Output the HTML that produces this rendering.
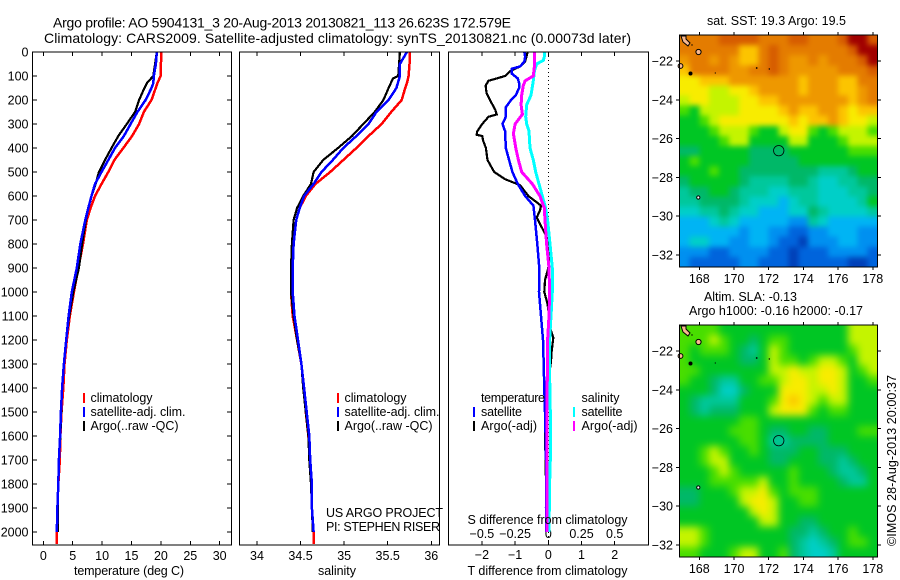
<!DOCTYPE html>
<html lang="en">
<head>
<meta charset="utf-8">
<title>Argo profile AO 5904131_3</title>
<style>
html,body{margin:0;padding:0;background:#fff;}
svg{display:block;}
text{font-family:"Liberation Sans",sans-serif;font-size:12.5px;fill:#000;}
.crisp{shape-rendering:crispEdges;}
</style>
</head>
<body>
<svg id="chart" xmlns="http://www.w3.org/2000/svg" width="900" height="580" viewBox="0 0 900 580">
<defs>
<filter id="soft-sst" filterUnits="userSpaceOnUse" x="650" y="10" width="250" height="290" color-interpolation-filters="sRGB"><feGaussianBlur stdDeviation="2.6"/></filter>
<filter id="soft-sla" filterUnits="userSpaceOnUse" x="650" y="300" width="250" height="280" color-interpolation-filters="sRGB"><feGaussianBlur stdDeviation="4"/></filter>
<clipPath id="clip-sst"><rect x="679.5" y="35" width="198" height="232"/></clipPath>
<clipPath id="clip-sla"><rect x="679.5" y="325" width="198" height="232"/></clipPath>
</defs>
<rect x="0" y="0" width="900" height="580" fill="#fff"/>
<text x="53" y="27.5" textLength="458" style="font-size:14px">Argo profile: AO 5904131_3 20-Aug-2013 20130821_113 26.623S 172.579E</text>
<text x="44" y="43" textLength="587" style="font-size:14px">Climatology: CARS2009. Satellite-adjusted climatology: synTS_20130821.nc (0.00073d later)</text>

<g id="maps"></g>
<g id="ticks"></g>
<g id="lines"></g>

<rect class="crisp" x="32.5" y="52" width="199" height="493" fill="none" stroke="#000" stroke-width="1.4"/>
<rect class="crisp" x="239.5" y="52" width="200" height="493" fill="none" stroke="#000" stroke-width="1.4"/>
<rect class="crisp" x="448.5" y="52" width="200" height="493" fill="none" stroke="#000" stroke-width="1.4"/>
<rect class="crisp" x="679.5" y="35" width="198" height="232" fill="none" stroke="#000" stroke-width="1.4"/>
<rect class="crisp" x="679.5" y="325" width="198" height="232" fill="none" stroke="#000" stroke-width="1.4"/>

<text x="74" y="575" textLength="110">temperature (deg C)</text>
<text x="318" y="575" textLength="38">salinity</text>
<text x="467.5" y="524" textLength="160">S difference from climatology</text>
<text x="467.5" y="575" textLength="160">T difference from climatology</text>

<g>
<rect class="crisp" x="83" y="393" width="2" height="10" fill="#f00"/>
<rect class="crisp" x="83" y="407" width="2" height="10" fill="#00f"/>
<rect class="crisp" x="83" y="421" width="2" height="10" fill="#000"/>
<text x="90.5" y="402" textLength="62">climatology</text>
<text x="90.5" y="416" textLength="95">satellite-adj. clim.</text>
<text x="90.5" y="430" textLength="88">Argo(..raw -QC)</text>
</g>
<g>
<rect class="crisp" x="337" y="393" width="2" height="10" fill="#f00"/>
<rect class="crisp" x="337" y="407" width="2" height="10" fill="#00f"/>
<rect class="crisp" x="337" y="421" width="2" height="10" fill="#000"/>
<text x="344.5" y="402" textLength="62">climatology</text>
<text x="344.5" y="416" textLength="95">satellite-adj. clim.</text>
<text x="344.5" y="430" textLength="88">Argo(..raw -QC)</text>
</g>
<g>
<text x="481" y="402" textLength="64">temperature</text>
<rect class="crisp" x="473" y="407" width="2" height="10" fill="#00f"/>
<rect class="crisp" x="473" y="421" width="2" height="10" fill="#000"/>
<text x="481" y="416" textLength="41">satellite</text>
<text x="481" y="430" textLength="56">Argo(-adj)</text>
<text x="581.5" y="402" textLength="38">salinity</text>
<rect class="crisp" x="573" y="407" width="2" height="10" fill="#0ff"/>
<rect class="crisp" x="573" y="421" width="2" height="10" fill="#f0f"/>
<text x="581.5" y="416" textLength="41">satellite</text>
<text x="581.5" y="430" textLength="56">Argo(-adj)</text>
</g>

<text x="326" y="517" textLength="117">US ARGO PROJECT</text>
<text x="326" y="531" textLength="114">PI: STEPHEN RISER</text>

<text x="707" y="25" textLength="139">sat. SST: 19.3 Argo: 19.5</text>
<text x="704" y="301" textLength="93">Altim. SLA: -0.13</text>
<text x="689" y="315" textLength="174">Argo h1000: -0.16 h2000: -0.17</text>
<text transform="translate(896,546) rotate(-90)" x="0" y="0" textLength="171">©IMOS 28-Aug-2013 20:00:37</text>
</svg>

<script>
// ---------- profile depths and values ----------
const tempRedDepth = [0,100,130,200,250,300,350,400,450,500,550,600,650,700,800,900,1000,1100,1200,1300,1400,1500,1600,1700,1800,1900,2000,2050];
const tempRed = [20.07,19.95,19.4,18.4,17.1,16.3,15.1,13.6,12.1,11.05,9.9,8.8,8.05,7.4,6.75,5.95,5.2,4.5,4.0,3.6,3.4,3.1,2.9,2.8,2.55,2.4,2.3,2.3];
const tempBlueDepth = [0,50,100,130,150,200,250,300,350,400,450,500,550,600,650,700,800,900,1000,1100,1200,1300,1400,1500,1600,1700,1800,1900,2000];
const tempBlue = [19.3,19.15,18.8,18.7,18.4,17.4,16.0,14.85,13.7,12.2,11.05,9.9,8.8,8.2,7.65,7.15,6.3,5.7,4.85,4.3,3.9,3.5,3.2,3.0,2.85,2.65,2.55,2.4,2.3];
const tempArgoDepth = [0,100,130,150,200,250,300,350,400,450,500,550,600,650,700,800,900,1000,1100,1200,1300,1400,1500,1600,1700,1800,1900,2000];
const tempArgo = [19.3,18.7,17.6,17.2,16.3,15.6,14.2,12.75,11.6,10.5,9.45,8.9,8.2,7.65,7.25,6.6,6.05,5.1,4.4,3.9,3.5,3.2,3.05,2.9,2.65,2.55,2.45,2.5];

const salRedDepth = [0,50,100,130,150,200,250,300,350,400,450,500,550,600,650,700,800,900,1000,1100,1200,1300,1400,1500,1600,1700,1800,1900,2000,2050];
const salRed = [35.75,35.75,35.74,35.72,35.70,35.66,35.54,35.43,35.28,35.14,34.99,34.84,34.67,34.56,34.49,34.45,34.42,34.39,34.39,34.41,34.46,34.51,34.54,34.56,34.59,34.61,34.63,34.63,34.65,34.65];
const salBlueDepth = [0,50,100,150,200,250,300,350,400,450,500,550,600,650,700,800,900,1000,1100,1200,1300,1400,1500,1600,1700,1800,1900,2000];
const salBlue = [35.72,35.64,35.64,35.60,35.51,35.37,35.28,35.14,34.99,34.87,34.74,34.65,34.54,34.49,34.45,34.42,34.41,34.41,34.43,34.47,34.51,34.54,34.57,34.60,34.61,34.63,34.63,34.65];
const salArgoDepth = [0,50,100,110,150,200,250,300,350,400,450,500,550,600,650,700,800,900,1000,1100,1200,1300,1400,1500,1600,1700,1800,1900,2000];
const salArgo = [35.64,35.63,35.62,35.56,35.51,35.45,35.35,35.22,35.09,34.93,34.76,34.65,34.62,34.53,34.46,34.42,34.40,34.39,34.39,34.42,34.46,34.51,34.53,34.56,34.59,34.60,34.62,34.63,34.64];

const diffTSatDepth = [0,20,40,60,70,90,110,130,150,180,200,230,270,300,330,400,450,500,550,600,640,700,800,900,1000,1100,1200,1300,1400,1500,1600,1700,1800,1900,2000];
const diffTSat = [-0.72,-0.7,-0.72,-0.85,-1.1,-1.1,-0.92,-0.88,-0.88,-0.98,-1.12,-1.28,-1.28,-1.38,-1.3,-1.28,-1.18,-1.08,-0.92,-0.7,-0.45,-0.4,-0.33,-0.27,-0.28,-0.22,-0.16,-0.14,-0.12,-0.1,-0.08,-0.07,-0.06,-0.07,-0.07];
const diffTArgoDepth = [0,40,60,80,100,120,140,170,200,240,260,270,300,330,345,350,370,400,450,500,530,555,600,640,660,690,730,770,830,900,950,1000,1050,1100,1150,1190,1250,1290,1400,1500,1600,1700,1800,2000];
const diffTArgo = [-0.62,-0.7,-0.85,-1.15,-1.3,-1.8,-1.89,-1.86,-1.76,-1.6,-1.55,-1.8,-1.99,-2.14,-2.16,-1.99,-1.96,-1.88,-1.83,-1.63,-1.3,-0.85,-0.6,-0.22,-0.25,-0.35,-0.2,-0.05,0.03,0,-0.1,-0.12,-0.02,0.02,0.05,0.15,0.1,0.08,-0.03,-0.08,-0.1,-0.08,-0.07,-0.07];
const diffSSatDepth = [0,20,35,50,80,120,180,220,270,300,330,400,450,500,550,600,650,700,800,900,1000,1100,1200,1300,1500,1700,1800,2000];
const diffSSat = [-0.03,-0.03,-0.038,-0.088,-0.105,-0.113,-0.13,-0.163,-0.17,-0.163,-0.145,-0.138,-0.113,-0.095,-0.07,-0.045,-0.02,-0.005,0.013,0.03,0.03,0.02,0.01,0.008,0.015,0.015,0.01,0.005];
const diffSArgoDepth = [0,60,100,120,140,180,220,260,300,340,400,450,500,550,600,650,700,800,900,1000,1100,1200,1500,2000];
const diffSArgo = [-0.105,-0.105,-0.113,-0.175,-0.188,-0.2,-0.205,-0.195,-0.25,-0.263,-0.245,-0.225,-0.2,-0.12,-0.063,-0.03,-0.025,-0.013,0.005,0.01,0.005,-0.005,-0.01,-0.01];

// ---------- tick labels ----------
const depthTicks = [0,100,200,300,400,500,600,700,800,900,1000,1100,1200,1300,1400,1500,1600,1700,1800,1900,2000];
const tempTicks = [0,5,10,15,20,25,30];
const salTicks = [34,34.5,35,35.5,36];
const diffTTicks = [-2,-1,0,1,2];
const diffSTicks = [-0.5,-0.25,0,0.25,0.5];
const lonTicks = [168,170,172,174,176,178];
const latTicks = [-22,-24,-26,-28,-30,-32];

// ---------- float position ----------
const floatLon = 172.579;
const floatLat = -26.623;

// ---------- map grids: colour-scale levels, north to south, west to east ----------
const sstLevels = [
[13,13,13,13,14,14,14,14,13,13,13,14,14,13,13,13,14,15,15,14],
[13,13,13,13,13,13,11,11,13,14,13,13,13,13,13,13,13,14,15,15],
[12,13,13,12,13,12,11,11,13,14,13,12,12,13,12,13,13,13,14,15],
[11,13,13,13,13,12,12,13,13,14,13,12,12,12,12,12,13,13,13,14],
[10,10,11,11,11,12,12,12,12,12,12,12,11,12,12,12,11,11,13,13],
[10,10,10,9,9,10,10,11,12,12,12,12,11,12,12,12,11,11,12,13],
[9,10,10,9,9,9,10,10,11,11,12,12,12,12,12,12,12,11,12,13],
[8,7,9,9,9,9,10,10,10,10,11,12,11,11,12,12,11,10,11,11],
[7,7,8,9,10,10,10,10,10,10,10,11,10,11,11,12,11,10,10,9],
[7,7,7,8,9,9,9,8,7,7,9,10,10,8,7,8,9,9,9,8],
[7,7,7,7,8,9,9,7,7,7,7,9,9,7,7,7,8,9,9,9],
[6,6,7,7,7,7,7,6,6,6,6,7,7,7,7,7,7,8,8,8],
[7,8,7,7,7,7,7,6,6,6,6,6,7,7,7,7,7,7,7,7],
[7,7,7,8,7,7,6,6,6,6,6,6,6,6,5,5,5,6,7,7],
[6,7,7,7,7,7,6,5,5,5,5,6,6,5,4,4,5,5,6,6],
[5,6,6,7,7,6,5,5,5,4,4,5,5,5,4,4,4,5,5,6],
[5,5,6,6,6,6,5,4,4,4,3,4,5,5,4,4,4,4,5,7],
[4,4,5,5,6,5,4,4,3,3,3,4,4,6,5,4,4,4,4,5],
[3,3,3,4,5,4,3,3,3,3,3,2,2,5,4,3,3,3,3,3],
[3,3,3,3,3,3,2,3,3,2,2,1,1,2,2,3,3,3,2,2],
[3,4,4,3,3,2,2,3,3,2,1,1,0,2,2,2,3,3,2,2],
[2,2,2,1,1,2,2,2,2,1,1,0,1,1,1,2,2,2,2,1],
[2,1,1,1,1,1,2,2,1,1,1,0,1,1,1,1,1,0,0,1]
];
const slaLevels = [
[8,8,8,8,7,7,7,7,7,7,7,7,7,7,7,7,7,9,9,9],
[8,8,8,9,8,7,7,6,7,8,8,7,7,7,7,7,7,9,9,9],
[8,7,8,8,8,7,6,5,7,9,8,7,7,7,7,7,7,8,9,9],
[8,7,7,7,7,7,6,6,7,9,8,8,7,8,9,9,8,7,9,9],
[8,8,7,7,7,7,7,7,7,9,9,10,9,9,10,10,9,7,8,9],
[8,7,7,6,5,5,7,7,8,8,9,10,10,9,10,10,9,7,7,8],
[7,7,7,6,4,4,6,7,7,7,10,10,10,9,9,10,9,7,7,7],
[7,6,5,5,5,5,7,7,7,8,10,11,10,9,8,9,9,7,7,7],
[7,6,5,6,6,6,7,7,7,9,10,10,10,8,7,8,8,7,7,7],
[7,7,7,7,7,7,8,8,7,7,7,7,7,7,7,7,7,7,7,7],
[7,7,7,7,7,8,8,8,7,6,6,7,7,6,6,7,7,7,8,8],
[7,7,7,7,7,7,8,8,7,5,5,6,6,6,6,7,7,7,7,7],
[7,7,8,9,8,7,7,8,7,6,6,6,7,7,6,6,6,7,7,7],
[7,7,8,9,9,7,7,7,7,6,6,7,7,7,6,6,5,6,7,7],
[7,7,7,8,9,8,7,7,7,7,7,8,7,7,7,6,5,5,6,7],
[7,7,7,8,8,8,8,8,9,7,7,8,7,7,7,7,6,5,5,7],
[6,6,7,7,7,8,9,9,10,8,7,8,8,8,7,7,7,7,7,7],
[6,6,7,7,7,7,9,10,10,9,7,7,8,8,7,7,7,7,7,7],
[7,7,7,7,7,7,7,9,10,9,7,7,7,7,7,7,7,7,7,7],
[7,7,7,7,7,7,7,7,9,9,7,7,6,6,7,7,7,7,7,7],
[9,9,8,7,7,7,7,7,7,7,7,6,6,5,6,7,7,8,7,7],
[9,9,8,7,7,7,7,7,7,7,7,6,5,4,5,6,7,8,8,7],
[8,8,7,7,7,8,9,9,7,7,8,6,5,4,4,5,7,7,7,7]
];

// ---------- axis functions ----------
const NS = 'http://www.w3.org/2000/svg';
const yDepth = d => 52 + 0.24 * d;
const xTemp = v => 43.3 + 5.88 * v;
const xSal = v => 257 + 87.15 * (v - 34);
const xDiffT = v => 548.3 + 33.2 * v;
const xDiffS = v => 548.3 + 132.8 * v;
const xLon = v => 699.3 + 17.35 * (v - 168);
const yLat = (v, top) => top + 26 + (-22 - v) * 19.4;

const PALETTE = [[0,64,184],[0,100,220],[0,144,240],[0,180,244],[0,207,200],[0,200,156],[0,184,104],[0,198,36],[72,222,0],[196,244,0],[248,236,0],[252,196,0],[238,152,0],[228,124,0],[214,92,0],[160,0,0]];
function levelColor(v) {
  const c = Math.max(0, Math.min(PALETTE.length - 1, v));
  const i = Math.min(PALETTE.length - 2, Math.floor(c));
  const f = c - i;
  const rgb = PALETTE[i].map((p, k) => Math.round(p + (PALETTE[i + 1][k] - p) * f));
  return 'rgb(' + rgb.join(',') + ')';
}
function make(tag, attrs, parent) {
  const el = document.createElementNS(NS, tag);
  for (const k in attrs) el.setAttribute(k, attrs[k]);
  parent.appendChild(el);
  return el;
}
const tickLayer = document.getElementById('ticks');
const lineLayer = document.getElementById('lines');
const mapLayer = document.getElementById('maps');

function tick(x1, y1, x2, y2) {
  const el = make('line', {x1: x1, y1: y1, x2: x2, y2: y2, stroke: '#000', 'stroke-width': 1, class: 'crisp'}, tickLayer);
  
  
}
function label(str, x, y, anchor) {
  const el = make('text', {x: x, y: y, 'text-anchor': anchor}, tickLayer);
  el.textContent = str;
  
  
}
function signed(v) { return String(v).replace('-', '\u2212'); }

// depth axis
depthTicks.forEach(d => {
  const y = yDepth(d);
  tick(32.5, y, 37, y);
  tick(227, y, 231.5, y);
  label(String(d), 28.5, y + 4.5, 'end');
});
// bottom and top axes of the three profile panels
function xAxis(ticks, fn, labelY) {
  ticks.forEach(v => {
    const x = fn(v);
    tick(x, 52, x, 56);
    tick(x, 541, x, 545);
    label(signed(v), x, labelY, 'middle');
  });
}
xAxis(tempTicks, xTemp, 560);
xAxis(salTicks, xSal, 560);
xAxis(diffTTicks, xDiffT, 559);
diffSTicks.forEach(v => label(signed(v), xDiffS(v), 538, 'middle'));

// zero reference in the difference panel
const zeroLine = make('line', {x1: xDiffT(0), y1: 52, x2: xDiffT(0), y2: 545, stroke: '#000', 'stroke-width': 1, 'stroke-dasharray': '1 3', class: 'crisp'}, lineLayer);



function profile(name, depths, values, xFn, color, width) {
  const pts = depths.map((d, i) => xFn(values[i]).toFixed(1) + ',' + yDepth(d).toFixed(1)).join(' ');
  const el = make('polyline', {points: pts, fill: 'none', stroke: color, 'stroke-width': width, class: 'crisp'}, lineLayer);
  
  
}
profile('temperature-climatology-line', tempRedDepth, tempRed, xTemp, '#f00', 2.5);
profile('temperature-argo-line', tempArgoDepth, tempArgo, xTemp, '#000', 2.2);
profile('temperature-satellite-line', tempBlueDepth, tempBlue, xTemp, '#00f', 2.5);
profile('salinity-climatology-line', salRedDepth, salRed, xSal, '#f00', 2.5);
profile('salinity-argo-line', salArgoDepth, salArgo, xSal, '#000', 2.2);
profile('salinity-satellite-line', salBlueDepth, salBlue, xSal, '#00f', 2.5);
profile('t-difference-argo-line', diffTArgoDepth, diffTArgo, xDiffT, '#000', 2.2);
profile('t-difference-satellite-line', diffTSatDepth, diffTSat, xDiffT, '#00f', 2.5);
profile('s-difference-satellite-line', diffSSatDepth, diffSSat, xDiffS, '#0ff', 3);
profile('s-difference-argo-line', diffSArgoDepth, diffSArgo, xDiffS, '#f0f', 3);

// maps
function drawMap(grid, top, name, clipId, filterId) {
  const rows = grid.length, cols = grid[0].length;
  const cw = 198 / cols, ch = 232 / rows;
  const clipGroup = make('g', {'clip-path': 'url(#' + clipId + ')'}, mapLayer);
  
  
  const softGroup = make('g', {filter: 'url(#' + filterId + ')'}, clipGroup);
  
  
  grid.forEach((row, r) => row.forEach((v, c) => {
    // border cells run past the frame so the softening does not fade at the edges
    const x0 = 679.5 + c * cw - (c === 0 ? 14 : 0);
    const x1 = 679.5 + (c + 1) * cw + (c === cols - 1 ? 14 : 0) + 0.5;
    const y0 = top + r * ch - (r === 0 ? 14 : 0);
    const y1 = top + (r + 1) * ch + (r === rows - 1 ? 14 : 0) + 0.5;
    const cell = make('rect', {x: x0.toFixed(2), y: y0.toFixed(2), width: (x1 - x0).toFixed(2), height: (y1 - y0).toFixed(2), fill: levelColor(v), class: 'crisp'}, softGroup);
    
    
  }));
  lonTicks.forEach(v => {
    const x = xLon(v);
    tick(x, top - 3, x, top);
    tick(x, top + 232, x, top + 235);
    label(String(v), x, top + 248, 'middle');
  });
  latTicks.forEach(v => {
    const y = yLat(v, top);
    tick(676, y, 679.5, y);
    tick(877.5, y, 881, y);
    label(signed(v), 673, y + 4.5, 'end');
  });
  const pink = '#f8b890';
  const chain = make('polygon', {points: [[2,1],[7,1],[7,4],[11,8],[9,11],[4,7]].map(p => p[0] + 679 + ',' + (p[1] + top)).join(' '), fill: pink, stroke: '#000', 'stroke-width': 1}, mapLayer);
  
  
  const isle2 = make('circle', {cx: 698.5, cy: top + 17, r: 2.6, fill: pink, stroke: '#000', 'stroke-width': 1}, mapLayer);
  
  
  const isle3 = make('circle', {cx: 680.5, cy: top + 31, r: 2.4, fill: pink, stroke: '#000', 'stroke-width': 1}, mapLayer);
  
  
  const isle4 = make('circle', {cx: 690.5, cy: top + 38.5, r: 2, fill: '#000'}, mapLayer);
  
  
  const isle5 = make('circle', {cx: 698.3, cy: top + 162.5, r: 1.6, fill: '#fff', stroke: '#000', 'stroke-width': 1}, mapLayer);
  
  
  const isle6 = make('circle', {cx: 756.7, cy: top + 33, r: 0.9, fill: '#000'}, mapLayer);
  
  
  const isle7 = make('circle', {cx: 769.3, cy: top + 34, r: 0.7, fill: '#000'}, mapLayer);
  
  
  const isle8 = make('circle', {cx: 715.3, cy: top + 38, r: 0.6, fill: '#000'}, mapLayer);
  
  
  const isle9 = make('circle', {cx: 692, cy: top + 10, r: 0.7, fill: '#000'}, mapLayer);
  
  
  const marker = make('circle', {cx: xLon(floatLon), cy: yLat(floatLat, top), r: 5.2, fill: 'none', stroke: '#000', 'stroke-width': 0.8}, mapLayer);
  
  
}
drawMap(sstLevels, 35, 'sst-map', 'clip-sst', 'soft-sst');
drawMap(slaLevels, 325, 'sla-map', 'clip-sla', 'soft-sla');
</script>
</body>
</html>
